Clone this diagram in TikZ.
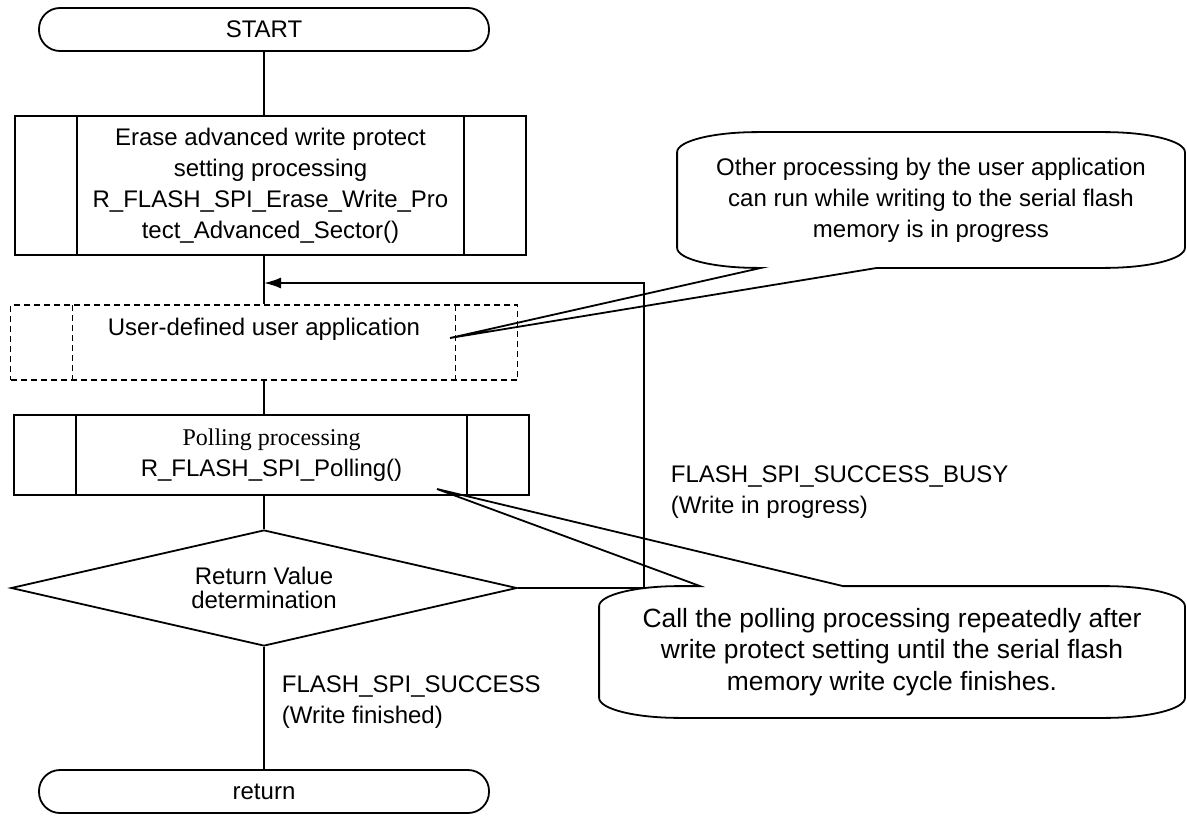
\documentclass[tikz,border=0pt]{standalone}
\usepackage{fontspec}
\setmainfont{Liberation Sans}
\newfontfamily\pollserif{Liberation Serif}
\usetikzlibrary{
        arrows.meta,
        shapes.geometric
    }
\tikzset{>={Latex[length=8.5pt,width=5.5pt]}}
\tikzset{
  terminal/.style={draw, rectangle, rounded corners=10.5pt, minimum width=225pt,
                   minimum height=21.5pt, inner sep=0pt},
  subproc/.style={draw, #1, inner sep=2pt, align=center, path picture={
      \draw[#1] ([xshift=31pt]path picture bounding box.north west) -- ([xshift=31pt]path picture bounding box.south west)
                ([xshift=-31pt]path picture bounding box.north east) -- ([xshift=-31pt]path picture bounding box.south east);}},
  subproc/.default=solid,
  decision/.style={draw, diamond, aspect=4.4, inner sep=0pt, minimum width=253pt,
                   minimum height=58pt, align=center, font=\fontsize{12pt}{12pt}\selectfont},
  note/.style={align=center, inner sep=0pt},
  lbl/.style={anchor=west, align=left, inner sep=0pt}
}

\begin{document}
\begin{tikzpicture}[x=0.5pt, y=-0.5pt, line width=0.9pt, font=\fontsize{12pt}{15.5pt}\selectfont]
            \useasboundingbox (0,0) rectangle (1187,818);
            % flow
            \node[terminal] (start) at (264,29.5) {START};
            \node[subproc, minimum width=255.5pt, minimum height=69.5pt] (erase) at (270.5,185.5)
                  {Erase advanced write protect\\setting processing\\R\_FLASH\_SPI\_Erase\_Write\_Pro\\tect\_Advanced\_Sector()};
            \node[subproc={dash pattern=on 3pt off 2pt}, minimum width=253.5pt, minimum height=37.5pt] (user) at (264,342.5)
                  {User-defined user application\\ ~};
            \node[subproc, minimum width=257.5pt, minimum height=40pt] (poll) at (271.5,455)
                  {{\pollserif Polling processing}\\R\_FLASH\_SPI\_Polling()};
            \node[decision] (check) at (264,588) {Return Value\\determination};
            \node[terminal] (ret) at (264,791.5) {return};
            \coordinate (merge) at (264,283);

            \draw (start) -- (start |- erase.north);
            \draw (start |- erase.south) -- (merge) -- (user);
            \draw (user) -- (user |- poll.north);
            \draw (user |- poll.south) -- (check);
            \draw (check) -- (ret);
            \draw[->] (check.east) -- ++(126,0) |- (merge);

            \node[lbl] (busy) at (670,492.5) {FLASH\_SPI\_SUCCESS\_BUSY\\(Write in progress)};
            \node[lbl] (done) at (281,702.5) {FLASH\_SPI\_SUCCESS\\(Write finished)};

            % callouts
            \node[note, minimum width=253pt, minimum height=67pt] (noteA) at (931,200)
                  {Other processing by the user application\\can run while writing to the serial flash\\memory is in progress};
            \node[note, minimum width=292pt, minimum height=65pt, font=\fontsize{13.2pt}{15.8pt}\selectfont] (noteB) at (892,652)
                  {Call the polling processing repeatedly after\\write protect setting until the serial flash\\memory write cycle finishes.};
            \coordinate (tipA) at (450,338);
            \coordinate (tipB) at (437,489);
            \draw ([xshift=42pt]noteA.south west) -- (tipA) -- ([xshift=100pt]noteA.south west)
                  -- ([xshift=-40pt]noteA.south east) arc[start angle=270, end angle=360, x radius=40pt, y radius=10pt]
                  -- ([yshift=-10pt]noteA.north east) arc[start angle=0, end angle=90, x radius=40pt, y radius=10pt]
                  -- ([xshift=40pt]noteA.north west) arc[start angle=90, end angle=180, x radius=40pt, y radius=10pt]
                  -- ([yshift=10pt]noteA.south west) arc[start angle=180, end angle=270, x radius=40pt, y radius=10pt]
                  -- cycle;
            \draw ([xshift=122pt]noteB.north west) -- (tipB) -- ([xshift=50.5pt]noteB.north west)
                  -- ([xshift=40pt]noteB.north west) arc[start angle=90, end angle=180, x radius=40pt, y radius=10pt]
                  -- ([yshift=10pt]noteB.south west) arc[start angle=180, end angle=270, x radius=40pt, y radius=10pt]
                  -- ([xshift=-40pt]noteB.south east) arc[start angle=270, end angle=360, x radius=40pt, y radius=10pt]
                  -- ([yshift=-10pt]noteB.north east) arc[start angle=0, end angle=90, x radius=40pt, y radius=10pt]
                  -- cycle;
        \end{tikzpicture}
\end{document}
